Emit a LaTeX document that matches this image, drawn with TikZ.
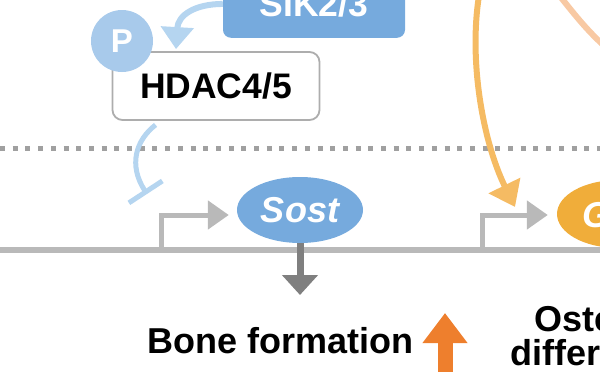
\documentclass[tikz,border=0pt]{standalone}
\usepackage{fontspec}
\setmainfont{Liberation Sans}
\usetikzlibrary{arrows.meta,positioning,shapes.geometric}
\definecolor{sikblue}{HTML}{76AADD}
\definecolor{paleblue}{HTML}{B5D5F0}
\definecolor{pblue}{HTML}{A8CAEB}
\definecolor{dnagray}{HTML}{B9B9B9}
\definecolor{dotgray}{HTML}{A0A0A0}
\definecolor{outgray}{HTML}{7F7F7F}
\definecolor{boxgray}{HTML}{ADADAD}
\definecolor{genorange}{HTML}{F0AD3A}
\definecolor{lineorange}{HTML}{F5BB63}
\definecolor{uporange}{HTML}{EE7F2D}
\definecolor{peach}{HTML}{F8C9A3}

\begin{document}
\begin{tikzpicture}[
    x=1pt, y=-1pt,
    lbl/.style={font=\fontsize{35.5}{38}\selectfont\bfseries},
    gene/.style={ellipse, inner sep=0pt, minimum width=126pt, minimum height=66pt, text=white, font=\fontsize{36}{38}\selectfont\bfseries\itshape},
    promoter/.style={draw=dnagray, line width=5pt, -{Triangle[length=21pt,width=28pt]}},
    act/.style={line width=6pt, -{Triangle[length=22pt,width=32pt]}}
  ]
    \useasboundingbox (0,0) rectangle (600,372);
    \clip (0,0) rectangle (600,372);

    \draw[dotgray, line width=5pt, dash pattern=on 5pt off 7.7pt] (0,148) -- (600,148);
    \draw[dnagray, line width=5.5pt] (0,250) -- (600,250);

    \node[fill=sikblue, rounded corners=8pt, minimum width=182pt, text depth=0pt, inner ysep=21pt, anchor=south, text=white, lbl] (sik) at (314,38) {SIK2/3};
    \node[draw=boxgray, line width=1.8pt, fill=white, rounded corners=10pt, minimum width=207pt, minimum height=68pt, lbl] (hdac) at (216,86) {HDAC4/5};
    \node[circle, fill=pblue, minimum size=62pt, inner sep=0pt, text=white, font=\fontsize{33}{33}\selectfont\bfseries] (phos) at (122,41) {P};

    \node[gene, fill=sikblue] (sost) at (300,210) {Sost};
    \node[gene, fill=genorange, minimum width=122pt, minimum height=68pt] (gene2) at (618,214) {};
    \node[anchor=base west, inner sep=0pt, text=white, font=\fontsize{36}{38}\selectfont\bfseries\itshape] (gene2txt) at (582,227) {G};

    \coordinate (tss1) at (161,250);
    \coordinate (tss2) at (482,250);
    \coordinate (sostout) at (300,295);
    \coordinate (inhib) at (147,194);
    \coordinate (orgsrc) at (482,-20);
    \coordinate (orgin) at (515,207);
    \coordinate (peachsrc) at (555,-10);
    \coordinate (peachend) at (615,55);

    \draw[promoter] (tss1) |- ([xshift=-8pt,yshift=-5pt]sost.west);
    \draw[promoter] (tss2) |- ([xshift=-9pt,yshift=-1pt]gene2.west);
    \draw[outgray, line width=7pt, -{Triangle[length=20pt,width=35pt]}] (sost.south) -- (sostout);

    \draw[act, paleblue] (sik.west) .. controls (195,4) and (178,15) .. ([xshift=-40pt,yshift=2pt]hdac.north);
    \draw[paleblue, line width=5pt, -{Bar[width=40pt]}] ([xshift=44pt,yshift=-4pt]hdac.south west) .. controls (136,140) and (128,165) .. (inhib);
    \draw[act, lineorange, -{Triangle[length=24pt,width=34pt]}] (orgsrc) .. controls (466,50) and (482,140) .. (orgin);
    \draw[peach, line width=6pt] (peachsrc) .. controls (575,15) and (590,35) .. (peachend);

    \node[lbl, font=\fontsize{36}{38}\selectfont\bfseries, anchor=base west, inner sep=0pt] (bone) at (147,353) {Bone formation};
    \coordinate (upbot) at (445,380);
    \coordinate (uptop) at (445,313);
    \draw[uporange, line width=15pt, -{Triangle[length=30pt,width=43pt]}] (upbot) -- (uptop);

    \node[lbl, font=\fontsize{36}{38}\selectfont\bfseries, anchor=base west, inner sep=0pt] (osteo) at (534,331) {Oste};
    \node[lbl, font=\fontsize{36}{38}\selectfont\bfseries, anchor=base west, inner sep=0pt] (differ) at (510,365) {differ};
  \end{tikzpicture}
\end{document}
